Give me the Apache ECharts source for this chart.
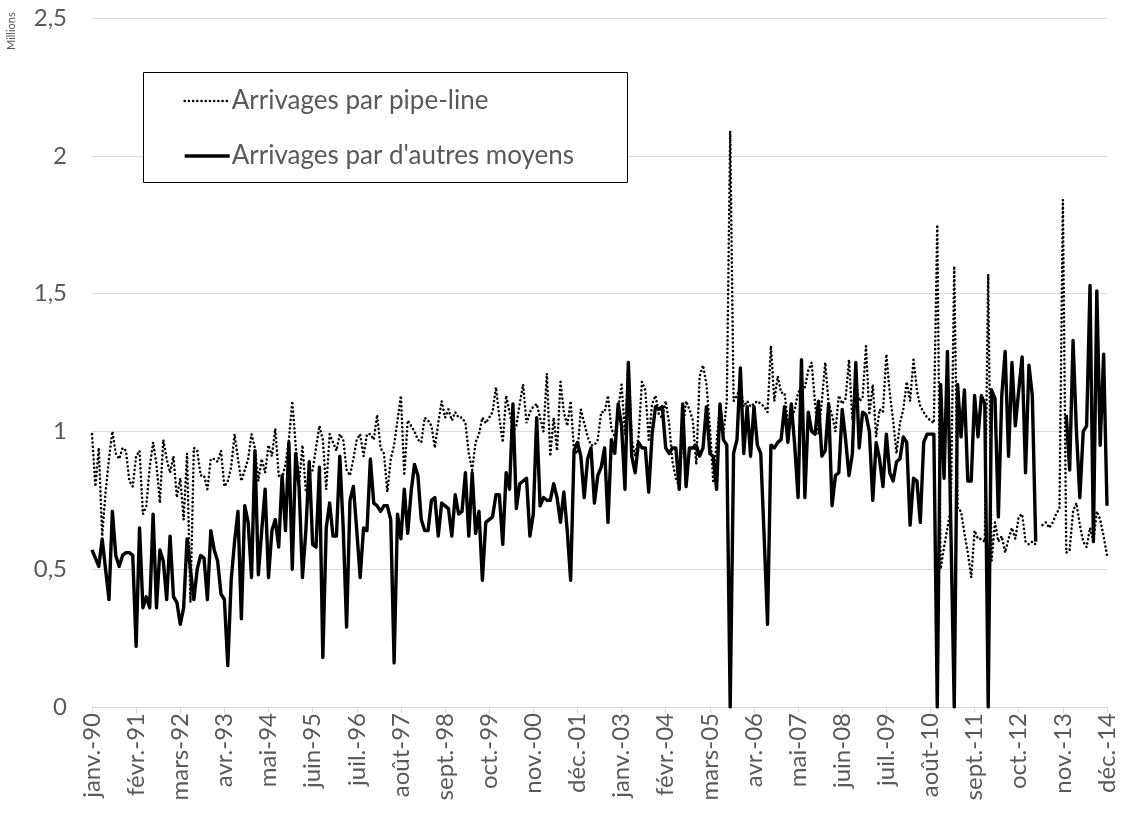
<!DOCTYPE html>
<html lang="fr">
<head>
    <meta charset="utf-8">
    <title>Arrivages</title>
    <script src="https://cdn.jsdelivr.net/npm/echarts@6/dist/echarts.min.js"></script>
    <style>
        html, body { margin: 0; padding: 0; background: #fff; }
        #main { width: 1122px; height: 818px; }
    </style>
</head>
<body>
    <div id="main"></div>

    <script type="text/javascript">

    // libellés des mois et années (axe des x)
    var moisAbr = ['janv.', 'févr.', 'mars', 'avr.', 'mai', 'juin', 'juil.', 'août', 'sept.', 'oct.', 'nov.', 'déc.'];
    var annees = [1990, 1991, 1992, 1993, 1994, 1995, 1996, 1997, 1998, 1999, 2000, 2001, 2002,
                  2003, 2004, 2005, 2006, 2007, 2008, 2009, 2010, 2011, 2012, 2013, 2014];

    // Arrivages par pipe-line (millions), un mois par valeur
    var pipeLine = [
        0.99, 0.80, 0.94, 0.62, 0.78, 0.90, 1.00, 0.92, 0.90, 0.94, 0.93, 0.82,   // 1990
        0.80, 0.91, 0.93, 0.70, 0.73, 0.87, 0.96, 0.88, 0.74, 0.97, 0.90, 0.85,   // 1991
        0.91, 0.76, 0.83, 0.68, 0.92, 0.38, 0.94, 0.93, 0.84, 0.84, 0.79, 0.90,   // 1992
        0.90, 0.89, 0.93, 0.80, 0.82, 0.87, 0.99, 0.90, 0.82, 0.86, 0.90, 0.99,   // 1993
        0.94, 0.82, 0.90, 0.85, 0.95, 0.91, 1.01, 0.84, 0.83, 0.88, 0.97, 1.11,   // 1994
        0.95, 0.81, 0.95, 0.78, 0.84, 0.86, 0.94, 1.02, 0.97, 0.79, 0.99, 0.96,   // 1995
        0.93, 0.99, 0.97, 0.86, 0.84, 0.90, 0.97, 0.99, 0.91, 0.99, 0.99, 0.97,   // 1996
        1.06, 0.94, 0.92, 0.78, 0.90, 0.95, 1.04, 1.13, 0.84, 1.04, 1.02, 1.00,   // 1997
        0.97, 0.96, 1.05, 1.04, 1.02, 0.94, 1.03, 1.11, 1.05, 1.08, 1.04, 1.07,   // 1998
        1.05, 1.05, 1.03, 0.92, 0.86, 0.96, 0.99, 1.05, 1.03, 1.05, 1.07, 1.16,   // 1999
        1.05, 0.96, 1.13, 1.07, 1.00, 1.02, 1.10, 1.17, 1.03, 1.07, 1.09, 1.10,   // 2000
        1.05, 1.00, 1.21, 0.91, 1.05, 0.93, 1.18, 1.07, 1.02, 1.11, 0.93, 0.92,   // 2001
        1.08, 1.03, 0.98, 0.95, 0.95, 0.97, 1.07, 1.07, 1.13, 1.01, 0.98, 1.08,   // 2002
        1.17, 0.99, 1.25, 0.97, 0.91, 0.98, 1.18, 1.15, 0.97, 1.10, 1.13, 1.06,   // 2003
        1.05, 1.11, 1.03, 0.89, 0.83, 0.80, 1.00, 1.11, 1.08, 1.04, 0.88, 1.20,   // 2004
        1.24, 1.17, 1.02, 0.82, 0.96, 1.10, 0.99, 1.11, 2.09, 1.11, 1.13, 1.16,   // 2005
        1.09, 1.11, 1.09, 1.10, 1.11, 1.10, 1.09, 1.07, 1.31, 1.11, 1.20, 1.14,   // 2006
        1.14, 1.03, 1.04, 1.08, 1.14, 1.16, 1.16, 1.22, 1.25, 1.10, 0.99, 1.11,   // 2007
        1.25, 1.10, 1.06, 1.00, 1.13, 1.10, 1.12, 1.26, 1.04, 1.18, 1.11, 1.12,   // 2008
        1.31, 1.06, 1.17, 0.98, 1.08, 1.07, 1.28, 1.14, 1.04, 0.92, 1.03, 1.08,   // 2009
        1.18, 1.11, 1.26, 1.15, 1.09, 1.07, 1.05, 1.04, 1.03, 1.75, 0.50, 0.58,   // 2010
        0.65, 0.72, 1.60, 0.72, 0.71, 0.63, 0.56, 0.47, 0.64, 0.61, 0.61, 0.60,   // 2011
        1.57, 0.53, 0.67, 0.60, 0.62, 0.56, 0.61, 0.65, 0.61, 0.69, 0.70, 0.60,   // 2012
        0.59, 0.60, 0.59, null, 0.66, 0.67, 0.65, 0.67, 0.70, 0.72, 1.84, 0.56,   // 2013
        0.57, 0.71, 0.74, 0.66, 0.60, 0.58, 0.65, 0.60, 0.71, 0.68, 0.62, 0.55    // 2014
    ];

    // Arrivages par d'autres moyens (millions)
    var autresMoyens = [
        0.57, 0.54, 0.51, 0.61, 0.50, 0.39, 0.71, 0.55, 0.51, 0.55, 0.56, 0.56,   // 1990
        0.55, 0.22, 0.65, 0.36, 0.40, 0.36, 0.70, 0.36, 0.57, 0.53, 0.39, 0.62,   // 1991
        0.40, 0.38, 0.30, 0.36, 0.61, 0.50, 0.39, 0.50, 0.55, 0.54, 0.39, 0.64,   // 1992
        0.57, 0.53, 0.41, 0.39, 0.15, 0.46, 0.60, 0.71, 0.32, 0.73, 0.67, 0.47,   // 1993
        0.93, 0.48, 0.64, 0.79, 0.47, 0.64, 0.68, 0.58, 0.84, 0.64, 0.96, 0.50,   // 1994
        0.92, 0.80, 0.47, 0.64, 0.89, 0.59, 0.58, 0.87, 0.18, 0.65, 0.74, 0.62,   // 1995
        0.62, 0.91, 0.65, 0.29, 0.75, 0.80, 0.64, 0.47, 0.65, 0.64, 0.90, 0.74,   // 1996
        0.73, 0.71, 0.73, 0.73, 0.68, 0.16, 0.70, 0.61, 0.79, 0.63, 0.78, 0.88,   // 1997
        0.84, 0.68, 0.64, 0.64, 0.75, 0.76, 0.62, 0.74, 0.73, 0.72, 0.62, 0.77,   // 1998
        0.70, 0.71, 0.85, 0.62, 0.85, 0.63, 0.71, 0.46, 0.67, 0.68, 0.69, 0.77,   // 1999
        0.77, 0.59, 0.85, 0.79, 1.10, 0.72, 0.81, 0.82, 0.83, 0.62, 0.70, 1.05,   // 2000
        0.73, 0.76, 0.75, 0.75, 0.81, 0.76, 0.67, 0.78, 0.64, 0.46, 0.93, 0.96,   // 2001
        0.91, 0.76, 0.90, 0.94, 0.74, 0.84, 0.87, 0.94, 0.67, 0.97, 0.92, 1.10,   // 2002
        1.02, 0.79, 1.25, 0.91, 0.85, 0.96, 0.94, 0.94, 0.78, 0.99, 1.09, 1.08,   // 2003
        1.09, 0.94, 0.92, 0.94, 0.94, 0.79, 1.10, 0.80, 0.94, 0.94, 0.95, 0.91,   // 2004
        0.94, 1.09, 0.92, 0.91, 0.79, 1.10, 0.97, 0.95, 0.00, 0.92, 0.97, 1.23,   // 2005
        0.92, 1.09, 0.91, 1.09, 0.95, 0.92, 0.62, 0.30, 0.95, 0.94, 0.96, 0.97,   // 2006
        1.09, 0.96, 1.10, 0.95, 0.76, 1.26, 0.76, 1.07, 1.00, 0.99, 1.11, 0.91,   // 2007
        0.93, 1.10, 0.73, 0.84, 0.85, 1.08, 0.97, 0.84, 0.92, 1.25, 0.94, 1.07,   // 2008
        1.06, 1.00, 0.75, 0.96, 0.90, 0.80, 0.99, 0.85, 0.82, 0.89, 0.90, 0.98,   // 2009
        0.96, 0.66, 0.83, 0.82, 0.67, 0.96, 0.99, 0.99, 0.99, 0.00, 1.17, 0.83,   // 2010
        1.29, 0.65, 0.00, 1.17, 0.98, 1.15, 0.82, 0.82, 1.13, 0.98, 1.13, 1.10,   // 2011
        0.00, 1.15, 1.12, 0.69, 1.13, 1.29, 0.91, 1.25, 1.02, 1.15, 1.27, 0.85,   // 2012
        1.24, 1.13, 0.60, null, null, null, null, null, null, null, null, 1.06,   // 2013
        0.86, 1.33, 1.00, 0.76, 1.00, 1.02, 1.53, 0.60, 1.51, 0.95, 1.28, 0.73    // 2014
    ];

    var yTicks = [0, 0.5, 1, 1.5, 2, 2.5];

    // catégories mensuelles "janv.-90" ... "déc.-14"
    var mois = [];
    annees.forEach(function (a) {
        moisAbr.forEach(function (m) {
            mois.push(m + '-' + String(a).slice(2));
        });
    });

    var police = 'Lato, "Open Sans", sans-serif';
    var gris = '#595959';

    // styles des deux traits (série et légende)
    var traitPointille = { color: '#000', width: 2.6, type: [0.01, 4.2], cap: 'round' };
    var traitPlein = { color: '#000', width: 3.4, type: 'solid', join: 'round' };

    var myChart = echarts.init(document.getElementById('main'));

    myChart.setOption({
        animation: false,
        textStyle: { fontFamily: police },
        grid: { left: 92, right: 15, top: 18, bottom: 111 },
        graphic: [{
            // cadre de la légende
            type: 'rect',
            z: 3,
            shape: { x: 143.5, y: 72.5, width: 484, height: 110 },
            style: { fill: '#fff', stroke: '#000', lineWidth: 1 }
        }, {
            type: 'text',
            x: 17,
            y: 50,
            rotation: Math.PI / 2,
            style: {
                text: 'Millions',
                fontSize: 11,
                fontFamily: police,
                fill: gris,
                textAlign: 'left',
                textVerticalAlign: 'bottom'
            }
        }],
        legend: {
            orient: 'vertical',
            left: 183,
            top: 88,
            z: 4,
            itemWidth: 45,
            itemHeight: 14,
            itemGap: 29,
            padding: 0,
            itemStyle: { opacity: 0 },
            textStyle: { fontSize: 26, color: gris, fontFamily: police, lineHeight: 26, padding: [0, 0, 0, -3] },
            data: [
                { name: 'Arrivages par pipe-line', lineStyle: traitPointille },
                { name: "Arrivages par d'autres moyens", lineStyle: traitPlein }
            ]
        },
        xAxis: {
            type: 'category',
            boundaryGap: false,
            data: mois,
            axisLine: { lineStyle: { color: '#d9d9d9', width: 1 } },
            axisTick: { interval: 12, length: 6, lineStyle: { color: '#d9d9d9' } },
            axisLabel: {
                interval: 12,
                rotate: 90,
                margin: 6,
                fontSize: 24,
                color: gris,
                fontFamily: police
            }
        },
        yAxis: {
            type: 'value',
            min: yTicks[0],
            max: yTicks[yTicks.length - 1],
            interval: 0.5,
            axisLine: { show: false },
            axisTick: { show: false },
            splitLine: { lineStyle: { color: '#d9d9d9', width: 1 } },
            axisLabel: {
                margin: 25,
                fontSize: 24,
                color: gris,
                fontFamily: police,
                formatter: function (v) { return String(v).replace('.', ','); }
            }
        },
        series: [{
            name: 'Arrivages par pipe-line',
            type: 'line',
            symbol: 'none',
            data: pipeLine,
            lineStyle: traitPointille,
            itemStyle: { color: '#000' }
        }, {
            name: "Arrivages par d'autres moyens",
            type: 'line',
            symbol: 'none',
            data: autresMoyens,
            lineStyle: traitPlein,
            itemStyle: { color: '#000' }
        }]
    });

    </script>
</body>
</html>
